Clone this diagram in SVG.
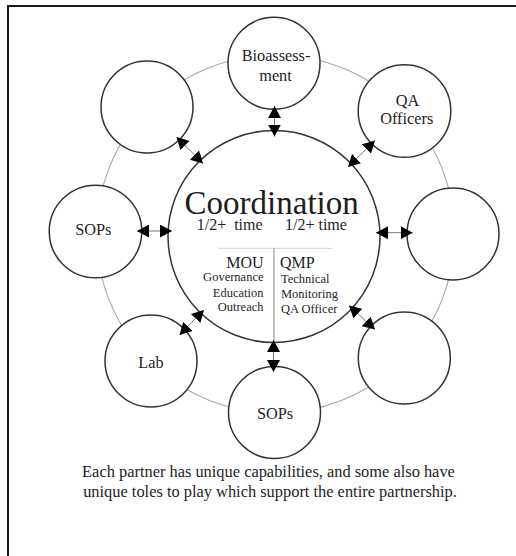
<svg xmlns="http://www.w3.org/2000/svg" width="516" height="556" viewBox="0 0 516 556">
<style>
  text { font-family: "Liberation Serif", "Times New Roman", serif; fill: #1e1e1e; }
  .node { fill: #fff; stroke: #333; stroke-width: 1.5; }
  .ring { fill: none; stroke: #a8a8a8; stroke-width: 1.1; }
  .lbl { font-size: 16.3px; text-anchor: middle; }
  .conn { stroke: #777; stroke-width: 1; fill: none; marker-start: url(#head); marker-end: url(#head); }
  .sm { font-size: 12.5px; }
</style>
<defs>
  <marker id="head" viewBox="0 0 12 13" refX="12" refY="6.5" markerWidth="12" markerHeight="13" markerUnits="userSpaceOnUse" orient="auto-start-reverse">
    <path d="M0,0 L12,6.5 L0,13 Z" fill="#000"/>
  </marker>
</defs>
<rect width="516" height="556" fill="#fff"/>
<path d="M8,556 V6 H516" fill="none" stroke="#1a1a1a" stroke-width="2"/>

<circle class="ring" cx="275.5" cy="234" r="179"/>

<g id="coordination">
  <circle class="node" cx="274" cy="236.5" r="106"/>
  <text x="271.7" y="214" font-size="33" text-anchor="middle">Coordination</text>
  <text x="196.7" y="229.8" font-size="16" xml:space="preserve">1/2+  time</text>
  <text x="285" y="229.8" font-size="16">1/2+ time</text>
  <line x1="218" y1="248.3" x2="332" y2="248.3" stroke="#d4d4d4" stroke-width="1"/>
  <line x1="274" y1="248.3" x2="274" y2="342" stroke="#888" stroke-width="1"/>
  <text x="263.5" y="267.7" font-size="16" text-anchor="end">MOU</text>
  <text class="sm" x="263.5" y="280.7" text-anchor="end">Governance</text>
  <text class="sm" x="263.5" y="296.7" text-anchor="end">Education</text>
  <text class="sm" x="263.5" y="310.7" text-anchor="end">Outreach</text>
  <text x="280" y="267.7" font-size="16">QMP</text>
  <text class="sm" x="281" y="282.7">Technical</text>
  <text class="sm" x="281" y="298.3">Monitoring</text>
  <text class="sm" x="281" y="312.7">QA Officer</text>
</g>

<g id="bioassessment">
  <circle class="node" cx="274" cy="63.3" r="46"/>
  <text class="lbl" x="276" y="60.7">Bioassess-</text>
  <text class="lbl" x="275.5" y="81">ment</text>
</g>
<g id="qa-officers">
  <circle class="node" cx="404.5" cy="111" r="46.3"/>
  <text class="lbl" x="407.5" y="106">QA</text>
  <text class="lbl" x="406.7" y="124">Officers</text>
</g>
<g id="right-empty">
  <circle class="node" cx="453" cy="234" r="46"/>
</g>
<g id="lower-right-empty">
  <circle class="node" cx="404.3" cy="358" r="46"/>
</g>
<g id="sops-bottom">
  <circle class="node" cx="274.5" cy="412.5" r="46"/>
  <text class="lbl" x="275" y="419.3">SOPs</text>
</g>
<g id="lab">
  <circle class="node" cx="151" cy="361" r="46"/>
  <text class="lbl" x="151" y="368.3">Lab</text>
</g>
<g id="sops-left">
  <circle class="node" cx="95.5" cy="231.5" r="46.3"/>
  <text class="lbl" x="93.3" y="235">SOPs</text>
</g>
<g id="upper-left-empty">
  <circle class="node" cx="147" cy="107" r="46"/>
</g>

<g id="connectors">
  <line class="conn" x1="274.5" y1="136.5" x2="274.5" y2="106"/>
  <line class="conn" x1="273.5" y1="340" x2="273.5" y2="372"/>
  <line class="conn" x1="172" y1="231" x2="137" y2="231"/>
  <line class="conn" x1="376" y1="232.7" x2="412.7" y2="232.7"/>
  <line class="conn" x1="203" y1="163.5" x2="176.5" y2="137"/>
  <line class="conn" x1="348" y1="167" x2="375" y2="140.5"/>
  <line class="conn" x1="204" y1="310" x2="179.5" y2="335"/>
  <line class="conn" x1="349" y1="305.5" x2="375" y2="329.5"/>
</g>

<g id="caption">
  <text x="268.5" y="476.7" font-size="16.4" text-anchor="middle">Each partner has unique capabilities, and some also have</text>
  <text x="270" y="496.7" font-size="16.4" text-anchor="middle">unique toles to play which support the entire partnership.</text>
</g>
</svg>
